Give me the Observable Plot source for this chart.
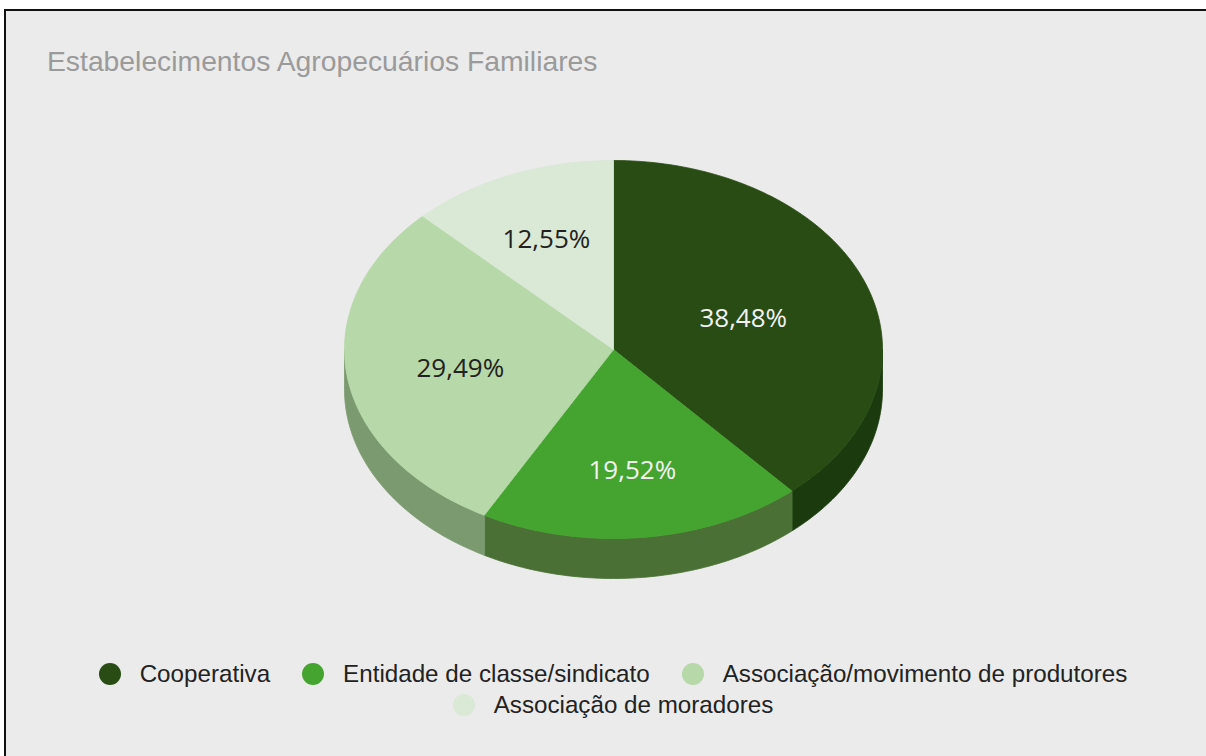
<!DOCTYPE html>
<html>
<head>
<meta charset="utf-8">
<script src="https://cdn.jsdelivr.net/npm/d3@7"></script>
<script src="https://cdn.jsdelivr.net/npm/@observablehq/plot@0.6"></script>
<style>
  html, body { margin: 0; padding: 0; background: #fff; width: 1206px; height: 756px; overflow: hidden; }
  body { position: relative; font-family: "Liberation Sans", Arial, sans-serif; }
  #frame { position: absolute; left: 4px; top: 9px; right: 0; bottom: 0; background: #ebebeb;
           border-top: 2px solid #111; border-left: 2px solid #111; }
  #title { position: absolute; left: 47px; top: 45px; font-size: 28.3px; color: #9a9a9a; white-space: nowrap; }
  #chart { position: absolute; left: 0; top: 100px; }
  #legend { position: absolute; left: 63px; top: 663px; width: 1100px; display: flex; flex-wrap: wrap;
            justify-content: center; column-gap: 32px; row-gap: 9px; }
  .item { display: flex; align-items: center; height: 22px; }
  .dot { width: 22px; height: 22px; border-radius: 50%; margin-right: 19px; flex: none; }
  .lab { font-size: 24.2px; color: #222; line-height: 22px; white-space: nowrap; }
</style>
</head>
<body>
<div id="frame"></div>
<div id="title">Estabelecimentos Agropecuários Familiares</div>
<div id="chart"></div>
<div id="legend"></div>
<script>
// ---- data ----
const categories = [
  "Cooperativa",
  "Entidade de classe/sindicato",
  "Associação/movimento de produtores",
  "Associação de moradores"
];
const shares = [38.48, 19.52, 29.49, 12.55];

// ---- styles ----
const topColors   = ["#294c14", "#45a430", "#b7d8a9", "#d9e9d5"];
const sideColors  = ["#1b3a0e", "#4a7035", "#7b9a6f", "#a9b9a4"];
const labelColors = ["#f2f2f2", "#f2f2f2", "#222222", "#222222"];

// ---- geometry of the 3D pie (in SVG pixel units) ----
const W = 1206, H = 540;
const cx = 613, cy = 249, rx = 269, ry = 189, depth = 40, labelDy = 4;
const px = a => cx + rx * Math.sin(a);
const py = a => cy - ry * Math.cos(a);

const arcs = d3.pie().sort(null).value(d => d)(shares);

function arcPts(a0, a1) {
  const n = Math.max(2, Math.ceil((a1 - a0) / (Math.PI / 180)));
  return d3.range(n + 1).map(i => a0 + (a1 - a0) * i / n);
}

const tops = [], sides = [], labels = [];
arcs.forEach((a, i) => {
  const id = categories[i];
  tops.push({id, fill: topColors[i], x: cx, y: cy});
  arcPts(a.startAngle, a.endAngle).forEach(t => tops.push({id, fill: topColors[i], x: px(t), y: py(t)}));
  tops.push({id, fill: topColors[i], x: cx, y: cy});
  const s0 = Math.max(a.startAngle, Math.PI / 2), s1 = Math.min(a.endAngle, 3 * Math.PI / 2);
  if (s1 > s0) {
    const pts = arcPts(s0, s1);
    pts.forEach(t => sides.push({id, fill: sideColors[i], x: px(t), y: py(t)}));
    pts.slice().reverse().forEach(t => sides.push({id, fill: sideColors[i], x: px(t), y: py(t) + depth}));
  }
  // label at the wedge centroid
  const m = (a.startAngle + a.endAngle) / 2, h = (a.endAngle - a.startAngle) / 2;
  const f = (2 / 3) * Math.sin(h) / h;
  labels.push({
    x: cx + f * rx * Math.sin(m),
    y: cy - f * ry * Math.cos(m) + labelDy,
    text: shares[i].toFixed(2).replace(".", ",") + "%",
    fill: labelColors[i]
  });
});

const chart = Plot.plot({
  width: W, height: H, margin: 0,
  x: {domain: [0, W], range: [0, W], axis: null},
  y: {domain: [0, H], range: [0, H], axis: null},
  style: {background: "transparent", overflow: "visible"},
  marks: [
    Plot.line(sides, {x: "x", y: "y", z: "id", fill: "fill", stroke: "fill", strokeWidth: 0.8, curve: "linear-closed"}),
    Plot.line(tops, {x: "x", y: "y", z: "id", fill: "fill", stroke: "fill", strokeWidth: 0.8, curve: "linear-closed"}),
    Plot.text(labels, {x: "x", y: "y", text: "text", fill: "fill", fontSize: 26, fontFamily: "Open Sans"})
  ]
});
document.getElementById("chart").appendChild(chart);

// ---- legend ----
const legend = document.getElementById("legend");
categories.forEach((c, i) => {
  const it = document.createElement("div");
  it.className = "item";
  it.innerHTML = `<span class="dot" style="background:${topColors[i]}"></span><span class="lab"></span>`;
  it.querySelector(".lab").textContent = c;
  legend.appendChild(it);
});
</script>
</body>
</html>
